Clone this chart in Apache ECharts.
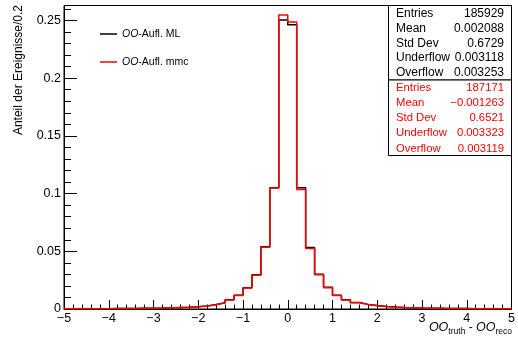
<!DOCTYPE html>
<html>
<head>
<meta charset="utf-8">
<script src="https://cdn.jsdelivr.net/npm/echarts@6/dist/echarts.min.js"></script>
<style>
  html, body { margin: 0; padding: 0; background: #fff; }
  #main { width: 518px; height: 338px; }
</style>
</head>
<body>
<div id="main"></div>
<script>
// bin edges, width 0.2 from -5 to 5
var binEdges = [-5.0, -4.8, -4.6, -4.4, -4.2, -4.0, -3.8, -3.6, -3.4, -3.2,
  -3.0, -2.8, -2.6, -2.4, -2.2, -2.0, -1.8, -1.6, -1.4, -1.2,
  -1.0, -0.8, -0.6, -0.4, -0.2, 0.0, 0.2, 0.4, 0.6, 0.8,
  1.0, 1.2, 1.4, 1.6, 1.8, 2.0, 2.2, 2.4, 2.6, 2.8,
  3.0, 3.2, 3.4, 3.6, 3.8, 4.0, 4.2, 4.4, 4.6, 4.8, 5.0];

var mlValues = [0.0002, 0.0002, 0.0003, 0.0003, 0.0003, 0.0004, 0.0004, 0.0005, 0.0006, 0.0007,
  0.0008, 0.0010, 0.0013, 0.0016, 0.0020, 0.0027, 0.0039, 0.0055, 0.0080, 0.0119,
  0.0184, 0.0297, 0.0540, 0.1050, 0.2504, 0.2464, 0.1050, 0.0533, 0.0301, 0.0189,
  0.0120, 0.0081, 0.0056, 0.0040, 0.0030, 0.0022, 0.0017, 0.0013, 0.0010, 0.0008,
  0.0007, 0.0006, 0.0005, 0.0004, 0.0004, 0.0003, 0.0003, 0.0003, 0.0002, 0.0002];

var mmcValues = [0.0002, 0.0002, 0.0003, 0.0003, 0.0003, 0.0004, 0.0004, 0.0005, 0.0006, 0.0007,
  0.0008, 0.0010, 0.0012, 0.0015, 0.0019, 0.0026, 0.0037, 0.0053, 0.0077, 0.0117,
  0.0181, 0.0293, 0.0535, 0.1049, 0.2548, 0.2487, 0.1035, 0.0525, 0.0296, 0.0185,
  0.0117, 0.0078, 0.0054, 0.0038, 0.0028, 0.0021, 0.0016, 0.0012, 0.0010, 0.0008,
  0.0007, 0.0006, 0.0005, 0.0004, 0.0004, 0.0003, 0.0003, 0.0002, 0.0002, 0.0002];

var seriesNames = ['OO-Aufl. ML', 'OO-Aufl. mmc'];
var statLabels = ['Entries', 'Mean', 'Std Dev', 'Underflow', 'Overflow'];
var mlStats = ['185929', '0.002088', '0.6729', '0.003118', '0.003253'];
var mmcStats = ['187171', '\u22120.001263', '0.6521', '0.003323', '0.003119'];

document.addEventListener("DOMContentLoaded", function(){
  var chartDom = document.getElementById('main');
  var myChart = echarts.init(chartDom);

  function histData(vals){
    var pts = [];
    for (var i = 0; i < vals.length; i++) pts.push([binEdges[i], vals[i]]);
    pts.push([binEdges[vals.length], vals[vals.length - 1]]);
    return pts;
  }

  function statBox(top, labels, values, color, size, rowH){
    var els = [{
      type: 'rect',
      shape: { x: 388.5, y: top, width: 123, height: rowH * 5 },
      style: { fill: '#fff', stroke: '#000', lineWidth: 1 }
    }];
    for (var i = 0; i < labels.length; i++) {
      var y = top + rowH * (i + 0.5) + 0.5;
      els.push({ type: 'text', x: 396, y: y,
        style: { text: labels[i], fill: color, font: size + 'px "Liberation Sans"', textVerticalAlign: 'middle' } });
      els.push({ type: 'text', x: 504, y: y,
        style: { text: values[i], fill: color, font: size + 'px "Liberation Sans"', textAlign: 'right', textVerticalAlign: 'middle' } });
    }
    return els;
  }

  var graphics = [].concat(
    statBox(5.5, statLabels, mlStats, '#000', 12, 14.9),
    statBox(80, statLabels, mmcStats, '#ff0000', 11.3, 15.1),
    [{
      type: 'text', x: 19, y: 5, rotation: Math.PI / 2,
      style: { text: 'Anteil der Ereignisse/0.2', fill: '#000', font: '12px "Liberation Sans"',
        textAlign: 'right', textVerticalAlign: 'middle' }
    }, {
      type: 'text', x: 512, y: 328,
      style: {
        text: '{i|OO}{s|truth}{n| - }{i|OO}{s|reco}',
        textAlign: 'right', textVerticalAlign: 'middle',
        rich: {
          i: { fontFamily: 'Liberation Sans', fontStyle: 'italic', fontSize: 12.5, fill: '#000' },
          s: { fontFamily: 'Liberation Sans', fontSize: 8.5, fill: '#000', padding: [8, 0, 0, 0] },
          n: { fontFamily: 'Liberation Sans', fontSize: 12, fill: '#000' }
        }
      }
    }]
  );

  var option = {
    animation: false,
    grid: { left: 64, right: 6.5, top: 5.5, bottom: 29, show: true, borderColor: '#000', borderWidth: 1 },
    legend: {
      orient: 'vertical', left: 100, top: 28, padding: 0,
      itemWidth: 17, itemHeight: 1.5, itemGap: 16, icon: 'rect',
      data: seriesNames,
      formatter: function(name){ return '{i|OO}' + name.slice(2); },
      textStyle: {
        fontFamily: 'Liberation Sans', fontSize: 10.5, color: '#000', lineHeight: 12,
        rich: { i: { fontFamily: 'Liberation Sans', fontStyle: 'italic', fontSize: 10.5, color: '#000' } }
      }
    },
    xAxis: {
      type: 'value', min: -5, max: 5, interval: 1,
      axisLine: { onZero: false, lineStyle: { color: '#000', width: 1 } },
      axisTick: { inside: true, length: 9, lineStyle: { color: '#000' } },
      minorTick: { show: true, splitNumber: 5, length: 4.5, lineStyle: { color: '#000' } },
      splitLine: { show: false },
      axisLabel: {
        margin: 3, color: '#000', fontFamily: 'Liberation Sans', fontSize: 12.5,
        formatter: function(v){ return String(v).replace('-', '\u2212'); }
      }
    },
    yAxis: {
      type: 'value', min: 0, max: 0.263, interval: 0.05,
      axisLine: { show: true, onZero: false, lineStyle: { color: '#000', width: 1 } },
      axisTick: { inside: true, length: 13, lineStyle: { color: '#000' } },
      minorTick: { show: true, splitNumber: 5, length: 7, lineStyle: { color: '#000' } },
      splitLine: { show: false },
      axisLabel: {
        margin: 3, color: '#000', fontFamily: 'Liberation Sans', fontSize: 12.5, showMaxLabel: false,
        formatter: function(v){ return Math.abs(v / 0.05 - Math.round(v / 0.05)) < 1e-6 ? String(+v.toFixed(2)) : ''; }
      }
    },
    series: [{
      name: seriesNames[0], type: 'line', step: 'end', data: histData(mlValues),
      showSymbol: false, color: '#000', lineStyle: { color: '#000', width: 1.5 }
    }, {
      name: seriesNames[1], type: 'line', step: 'end', data: histData(mmcValues),
      showSymbol: false, color: '#ff0000', lineStyle: { color: '#ff0000', width: 1.5 }
    }],
    graphic: graphics
  };

  option && myChart.setOption(option);
});
</script>
</body>
</html>
